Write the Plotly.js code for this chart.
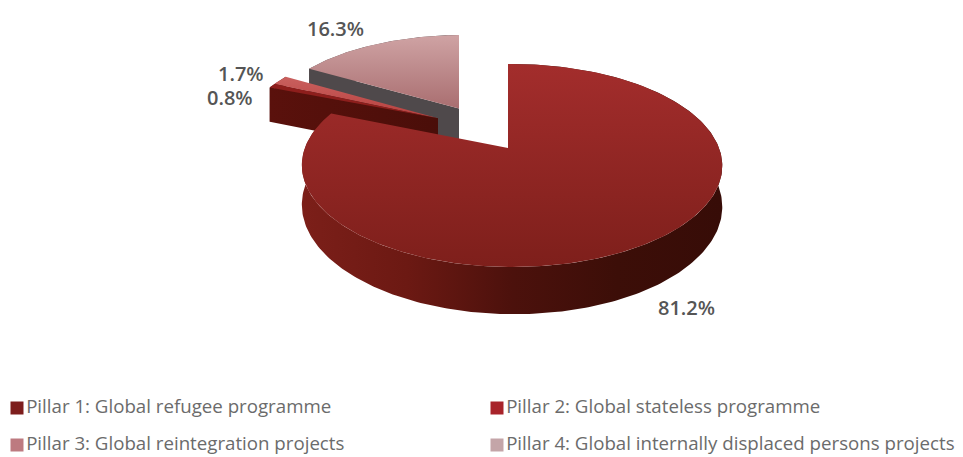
<!DOCTYPE html>
<html>
<head>
<meta charset="utf-8">
<script src="https://cdn.plot.ly/plotly-3.0.1.min.js"></script>
<style>html,body{margin:0;padding:0;background:#fff}#chart{width:963px;height:457px}</style>
</head>
<body>
<div id="chart"></div>
<script>
// Budget share by pillar, clockwise from twelve o'clock
const pillars = [
  'Pillar 1: Global refugee programme',
  'Pillar 2: Global stateless programme',
  'Pillar 3: Global reintegration projects',
  'Pillar 4: Global internally displaced persons projects'
];
const shares = [81.2, 0.8, 1.7, 16.3];

// Look of each wedge: top face gradient (near to far), wall gradient (left to right), key swatch
const topColors = [
  ['#7e1f1b', '#a32d2c'],
  ['#8e1e1c', '#8e1e1c'],
  ['#b8403e', '#c9605e'],
  ['#a96e70', '#cfa3a4']
];
const wallColors = [
  ['#7c1f19', '#6c1913', '#4c110c', '#3c0e08', '#370c07'],
  ['#5a110c', '#4a0e09'],
  ['#5a110c', '#4a0e09'],
  ['#4f494b', '#4f494b']
];
const swatchColors = ['#7d1d1c', '#a8232a', '#bd7a80', '#c4a5a8'];

// Perspective camera for the tilted disc, in plot units
const cam = {cx: 508, cy: 148, k: 207, q: 98.5, p: 0.1725, w: -0.019, depth: 39};
// Explode offsets: sideways shift and shift away from the viewer
const shiftX = [0, -70, -70, -49];
const shiftV = [0, 0.32, 0.32, 0.43];
// Which order the wedges are painted in, back to front
const paintOrder = [3, 2, 1, 0];

const labelPos = [[686, 307], [230, 97], [241, 73], [335, 28]];
const keyPos = [[17, 408], [497, 408], [17, 445], [497, 445]];

function project(u, v, i, drop) {
  const vv = v + shiftV[i];
  const d = 1 + cam.p * vv + cam.w * u;
  return [cam.cx + shiftX[i] + cam.k * u / d, cam.cy + (drop - cam.q * vv) / d];
}
function scale(colors) {
  return colors.map((c, n) => [n / (colors.length - 1), c]);
}
function polygon(points, gradientType, colors) {
  return {
    type: 'scatter', mode: 'lines', fill: 'toself', hoverinfo: 'skip', showlegend: false,
    x: points.map(p => p[0]), y: points.map(p => p[1]),
    line: {width: 0, color: colors[0]},
    fillcolor: colors[0],
    fillgradient: {type: gradientType, colorscale: scale(colors)}
  };
}

const total = shares.reduce((a, b) => a + b, 0);
const starts = [];
shares.reduce((acc, s, i) => { starts[i] = acc; return acc + s; }, 0);

const traces = [];
paintOrder.forEach(i => {
  const a0 = starts[i] / total * 2 * Math.PI;
  const a1 = (starts[i] + shares[i]) / total * 2 * Math.PI;
  const steps = Math.max(4, Math.ceil((a1 - a0) * 60));
  const rim = [];
  for (let s = 0; s <= steps; s++) {
    const a = a0 + (a1 - a0) * s / steps;
    rim.push([Math.sin(a), Math.cos(a)]);
  }
  const topRim = rim.map(r => project(r[0], r[1], i, 0));
  const lowRim = rim.map(r => project(r[0], r[1], i, cam.depth));
  const hubTop = project(0, 0, i, 0);
  const hubLow = project(0, 0, i, cam.depth);

  // Outer curved wall
  traces.push(polygon(topRim.concat(lowRim.slice().reverse()), 'horizontal', wallColors[i]));
  // Radial wall along the leading cut, seen from the front on the small wedges
  if (i > 0) {
    traces.push(polygon([hubTop, topRim[0], lowRim[0], hubLow], 'horizontal', wallColors[i]));
  }
  // Top face
  traces.push(polygon([hubTop].concat(topRim), 'vertical', topColors[i]));
});

// Key swatches with their captions
pillars.forEach((name, i) => {
  traces.push({
    type: 'scatter', mode: 'markers+text', hoverinfo: 'skip', showlegend: false,
    x: [keyPos[i][0]], y: [keyPos[i][1]],
    marker: {symbol: 'square', size: 13, color: swatchColors[i]},
    text: [name], textposition: 'middle right',
    textfont: {family: '"Open Sans", sans-serif', size: 18.7, color: '#6b6b6b'}
  });
});

const annotations = shares.map((s, i) => ({
  x: labelPos[i][0], y: labelPos[i][1], xref: 'x', yref: 'y', showarrow: false,
  text: s.toFixed(1) + '%',
  font: {family: '"Open Sans", sans-serif', size: 20, color: '#555555', weight: 600}
}));

Plotly.newPlot('chart', traces, {
  width: 963, height: 457,
  margin: {l: 0, r: 0, t: 0, b: 0},
  paper_bgcolor: '#ffffff', plot_bgcolor: '#ffffff',
  showlegend: false,
  xaxis: {range: [0, 963], visible: false, fixedrange: true},
  yaxis: {range: [457, 0], visible: false, fixedrange: true},
  annotations
}, {displayModeBar: false, staticPlot: true});
</script>
</body>
</html>
